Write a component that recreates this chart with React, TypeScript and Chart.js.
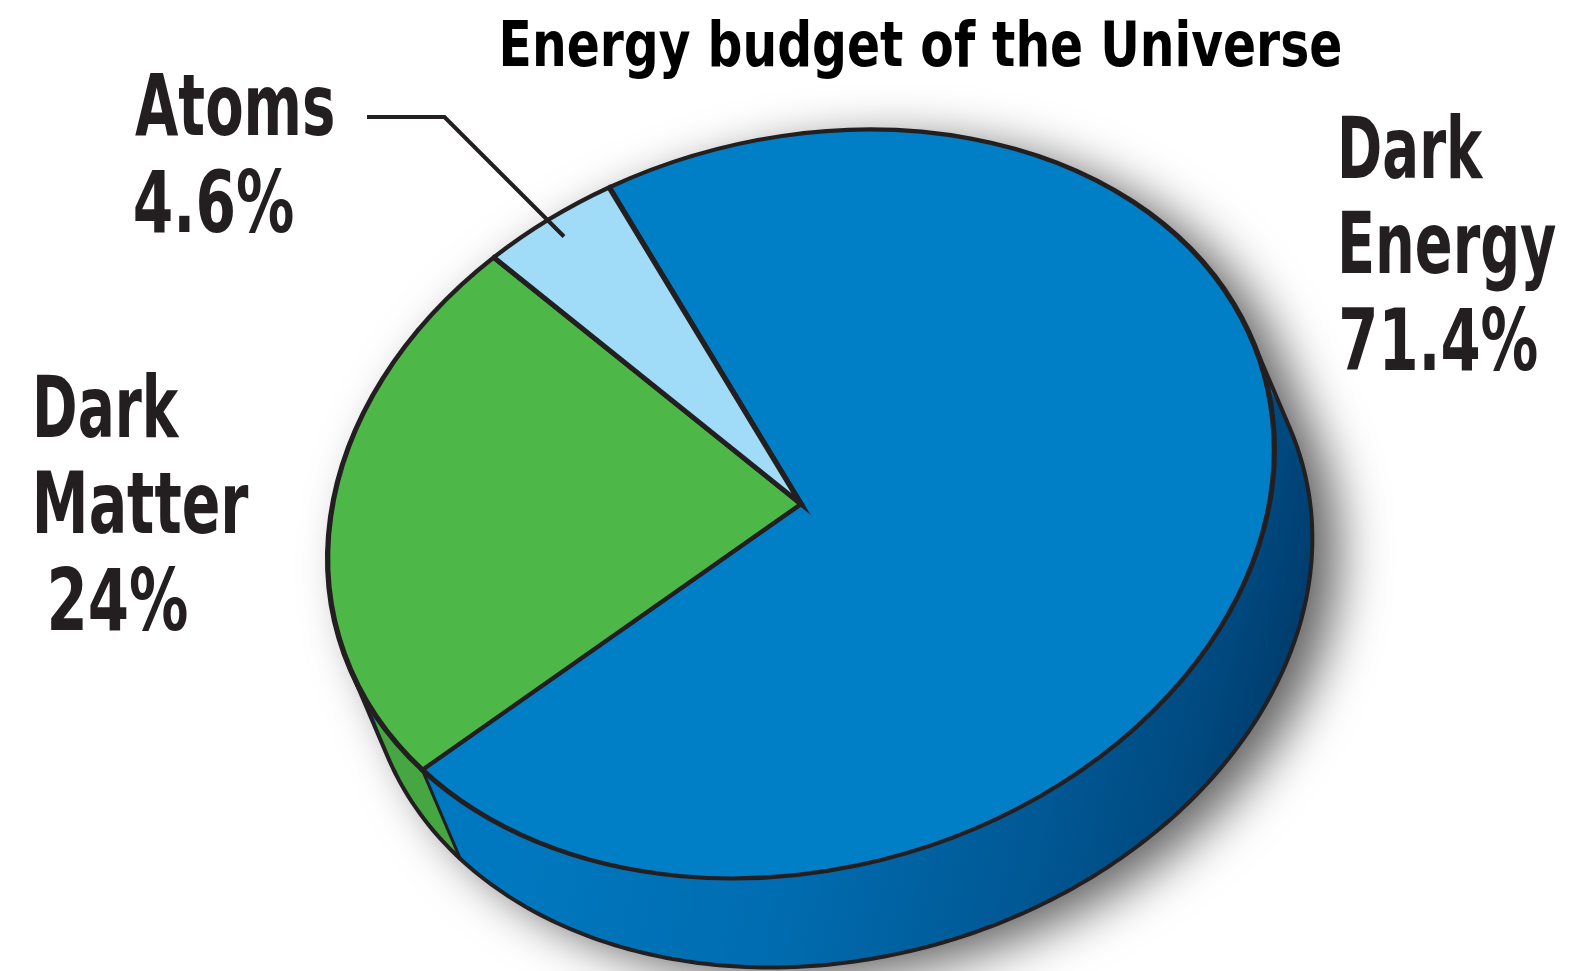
import React, { useEffect, useRef } from "react";
import { Chart, registerables } from "chart.js";

Chart.register(...registerables);

// ---------- data ----------
const categories = ["Dark Energy", "Dark Matter", "Atoms"];
const shares = [71.4, 24, 4.6];
const labelWords = [["Dark", "Energy"], ["Dark", "Matter"], ["Atoms"]];
const titleText = "Energy budget of the Universe";

// ---------- styles ----------
const faceColors = ["#017fc6", "#4db848", "#a0dbf7"];
const sideColors = ["#0077bd", "#46a641", "#86c6e6"];
const outlineColor = "#231f20";
const FONT = "'Liberation Sans Narrow', 'DejaVu Sans Condensed', 'Liberation Sans', sans-serif";

// ---------- layout ----------
const PIE = { cx: 801, cy: 504, a: 481, b: 364.6, tilt: -15.8, dx: 38, dy: 89, rotation: -11.8 };
const titleBox = { x: 503, top: 21, base: 66, w: 837 };
const labelCap = 63;
const labelBoxes = [
  [ { x: 1342, base: 178, w: 142 }, { x: 1342, base: 273, w: 214 }, { x: 1342, base: 370, w: 195 } ],
  [ { x: 37, base: 437, w: 143 }, { x: 37, base: 533, w: 212 }, { x: 51, base: 630, w: 136 } ],
  [ { x: 135, base: 135, w: 198 }, { x: 135, base: 232, w: 158 } ],
];
const leaderY = 117;
const leaderStartX = 367;

function mapper() {
  const th = (PIE.tilt * Math.PI) / 180;
  const c = Math.cos(th);
  const sn = Math.sin(th);
  const map = (phi: number, rf = 1, off = 0) => {
    const lx = PIE.a * rf * Math.cos(phi);
    const ly = PIE.b * rf * Math.sin(phi);
    return [PIE.cx + lx * c - ly * sn + off * PIE.dx, PIE.cy + lx * sn + ly * c + off * PIE.dy];
  };
  const d1 = c * PIE.dx + sn * PIE.dy;
  const d2 = -sn * PIE.dx + c * PIE.dy;
  const phiR = Math.atan((-PIE.b * d1) / (PIE.a * d2));
  const phiL = phiR + Math.PI;
  return { th, map, phiR, phiL };
}

const pie3d = {
  id: "pie3d",
  beforeDatasetsDraw(chart: any) {
    const ctx = chart.ctx as CanvasRenderingContext2D;
    const arcs = chart.getDatasetMeta(0).data;
    if (!arcs.length) return;
    const { x: ox, y: oy, outerRadius: R } = arcs[0].getProps(["x", "y", "outerRadius"], true);
    const { th, map, phiR, phiL } = mapper();
    const N = 180;

    // silhouette with shadow
    ctx.save();
    ctx.beginPath();
    for (let i = 0; i <= N; i++) {
      const [x, y] = map(phiR + (Math.PI * i) / N, 1, 1);
      i ? ctx.lineTo(x, y) : ctx.moveTo(x, y);
    }
    for (let i = 0; i <= N; i++) {
      const [x, y] = map(phiL + (Math.PI * i) / N, 1, 0);
      ctx.lineTo(x, y);
    }
    ctx.closePath();
    ctx.shadowColor = "rgba(0,0,0,0.62)";
    ctx.shadowBlur = 50;
    ctx.shadowOffsetX = 26;
    ctx.shadowOffsetY = 12;
    ctx.fillStyle = sideColors[0];
    ctx.fill();
    ctx.restore();

    // side bands
    const grad = ctx.createLinearGradient(560, 700, 1300, 900);
    grad.addColorStop(0, "#0078bf");
    grad.addColorStop(0.35, "#006cb0");
    grad.addColorStop(0.65, "#005894");
    grad.addColorStop(0.82, "#00497f");
    grad.addColorStop(1, "#002f5a");
    arcs.forEach((el: any, i: number) => {
      const { startAngle, endAngle } = el.getProps(["startAngle", "endAngle"], true);
      const n = Math.max(8, Math.ceil(((endAngle - startAngle) * 180) / Math.PI));
      ctx.beginPath();
      for (let j = 0; j <= n; j++) {
        const [x, y] = map(startAngle + ((endAngle - startAngle) * j) / n, 1, 0);
        j ? ctx.lineTo(x, y) : ctx.moveTo(x, y);
      }
      for (let j = n; j >= 0; j--) {
        const [x, y] = map(startAngle + ((endAngle - startAngle) * j) / n, 1, 1);
        ctx.lineTo(x, y);
      }
      ctx.closePath();
      ctx.fillStyle = i === 0 ? grad : sideColors[i];
      ctx.fill();
    });

    // outline of the side
    ctx.save();
    ctx.strokeStyle = outlineColor;
    ctx.lineWidth = 4;
    ctx.lineJoin = "round";
    ctx.beginPath();
    let p = map(phiR, 1, 0);
    ctx.moveTo(p[0], p[1]);
    for (let i = 0; i <= N; i++) {
      const [x, y] = map(phiR + (Math.PI * i) / N, 1, 1);
      ctx.lineTo(x, y);
    }
    p = map(phiL, 1, 0);
    ctx.lineTo(p[0], p[1]);
    ctx.stroke();
    ctx.lineWidth = 3;
    arcs.forEach((el: any) => {
      const { startAngle } = el.getProps(["startAngle"], true);
      const a0 = map(startAngle, 1, 0);
      const a1 = map(startAngle, 1, 1);
      ctx.beginPath();
      ctx.moveTo(a0[0], a0[1]);
      ctx.lineTo(a1[0], a1[1]);
      ctx.stroke();
    });
    ctx.restore();

    // top face transform
    const s = PIE.a / R;
    const k = PIE.b / PIE.a;
    ctx.save();
    ctx.translate(PIE.cx, PIE.cy);
    ctx.rotate(th);
    ctx.scale(s, s * k);
    ctx.translate(-ox, -oy);
    chart.$pie3dSaved = true;
  },
  afterDatasetsDraw(chart: any) {
    if (chart.$pie3dSaved) {
      chart.ctx.restore();
      chart.$pie3dSaved = false;
    }
  },
  afterDraw(chart: any) {
    const ctx = chart.ctx as CanvasRenderingContext2D;
    const arcs = chart.getDatasetMeta(0).data;
    const { map } = mapper();

    // leader line for the smallest slice
    if (arcs[2]) {
      const { startAngle, endAngle } = arcs[2].getProps(["startAngle", "endAngle"], true);
      const [ex, ey] = map((startAngle + endAngle) / 2, 0.94, 0);
      const elbowX = ex - (ey - leaderY);
      ctx.save();
      ctx.strokeStyle = outlineColor;
      ctx.lineWidth = 4;
      ctx.lineJoin = "miter";
      ctx.beginPath();
      ctx.moveTo(leaderStartX, leaderY);
      ctx.lineTo(elbowX, leaderY);
      ctx.lineTo(ex, ey);
      ctx.stroke();
      ctx.restore();
    }

    const capRatio = (() => {
      ctx.font = `bold 100px ${FONT}`;
      return ctx.measureText("H").actualBoundingBoxAscent / 100;
    })();

    const drawFitted = (text: string, x: number, base: number, w: number, cap: number, color: string) => {
      const size = cap / capRatio;
      ctx.save();
      ctx.font = `bold ${size}px ${FONT}`;
      ctx.fillStyle = color;
      ctx.textBaseline = "alphabetic";
      ctx.textAlign = "left";
      const m = ctx.measureText(text);
      const ink = m.actualBoundingBoxLeft + m.actualBoundingBoxRight;
      const sc = w / ink;
      ctx.translate(x + m.actualBoundingBoxLeft * sc, base);
      ctx.scale(sc, 1);
      ctx.fillText(text, 0, 0);
      ctx.restore();
    };

    drawFitted(titleText, titleBox.x, titleBox.base, titleBox.w, titleBox.base - titleBox.top, "#000000");

    categories.forEach((_, i) => {
      const lines = [...labelWords[i], `${shares[i]}%`];
      lines.forEach((t, j) => {
        const bx = labelBoxes[i][j];
        drawFitted(t, bx.x, bx.base, bx.w, labelCap, outlineColor);
      });
    });
  },
};

export default function App() {
  const ref = useRef<HTMLCanvasElement | null>(null);
  useEffect(() => {
    if (!ref.current) return;
    const chart = new Chart(ref.current, {
      type: "pie",
      data: {
        labels: categories,
        datasets: [
          {
            data: shares,
            backgroundColor: faceColors,
            borderColor: outlineColor,
            borderWidth: 5.4,
            borderJoinStyle: "miter",
            clip: false,
          } as any,
        ],
      },
      options: {
        responsive: false,
        animation: false,
        events: [],
        rotation: PIE.rotation,
        layout: { padding: 0 },
        plugins: {
          legend: { display: false },
          tooltip: { enabled: false },
          title: { display: false },
        },
      } as any,
      plugins: [pie3d as any],
    });
    return () => chart.destroy();
  }, []);
  return (
    <div style={{ position: "absolute", left: 0, top: 0, width: 1569, height: 971, background: "#ffffff" }}>
      <canvas ref={ref} width={1569} height={971} style={{ display: "block" }} />
    </div>
  );
}
